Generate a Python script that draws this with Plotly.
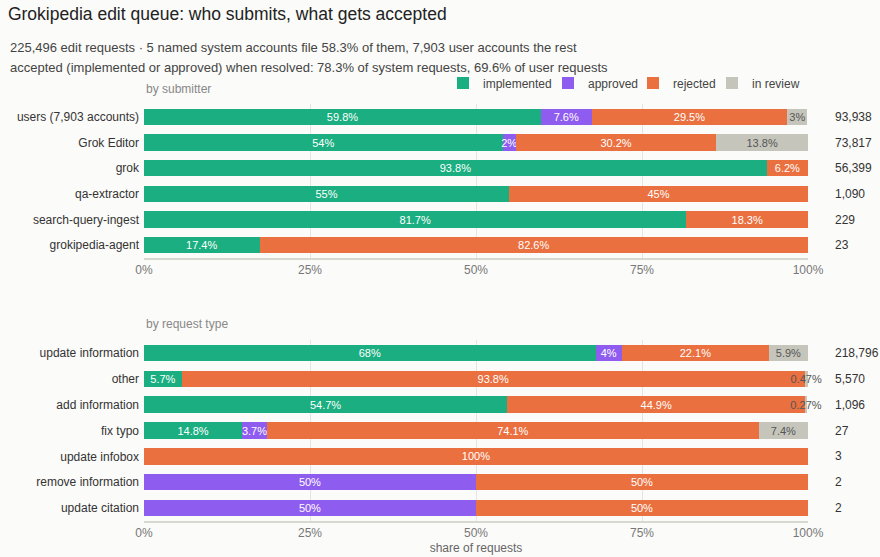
import plotly.graph_objects as go
from plotly.subplots import make_subplots

statuses = ["implemented", "approved", "rejected", "in review"]
colors = ["#1aae80", "#8f5cf0", "#ea7040", "#c6c5bb"]
text_colors = ["white", "white", "white", "#555555"]
legend_widths = [60, 40, 34, None]

# by submitter, share (%) in each status
submitters = ["users (7,903 accounts)", "Grok Editor", "grok", "qa-extractor",
              "search-query-ingest", "grokipedia-agent"]
sub_implemented = [59.8, 54, 93.8, 55, 81.7, 17.4]
sub_approved = [7.6, 2, 0, 0, 0, 0]
sub_rejected = [29.5, 30.2, 6.2, 45, 18.3, 82.6]
sub_review = [3, 13.8, 0, 0, 0, 0]
sub_counts = ["93,938", "73,817", "56,399", "1,090", "229", "23"]

# by request type
req_types = ["update information", "other", "add information", "fix typo",
             "update infobox", "remove information", "update citation"]
req_implemented = [68, 5.7, 54.7, 14.8, 0, 0, 0]
req_approved = [4, 0, 0, 3.7, 0, 50, 50]
req_rejected = [22.1, 93.8, 44.9, 74.1, 100, 50, 50]
req_review = [5.9, 0.47, 0.27, 7.4, 0, 0, 0]
req_counts = ["218,796", "5,570", "1,096", "27", "3", "2", "2"]

ticks = [0, 25, 50, 75, 100]
tick_labels = ["0%", "25%", "50%", "75%", "100%"]

sub_series = [sub_implemented, sub_approved, sub_rejected, sub_review]
req_series = [req_implemented, req_approved, req_rejected, req_review]


def pct_text(vals):
    return [f"{v:g}%" if v > 0 else "" for v in vals]


fig = make_subplots(rows=2, cols=1, shared_xaxes=False)

for i, name in enumerate(statuses):
    fig.add_trace(go.Bar(y=submitters, x=sub_series[i], name=name, orientation="h",
                         marker=dict(color=colors[i], line=dict(width=0)),
                         text=pct_text(sub_series[i]), textposition="inside",
                         insidetextanchor="middle", textangle=0, cliponaxis=False,
                         textfont=dict(color=text_colors[i], size=11),
                         legendgroup=name, legendwidth=legend_widths[i]), row=1, col=1)
    fig.add_trace(go.Bar(y=req_types, x=req_series[i], name=name, orientation="h",
                         marker=dict(color=colors[i], line=dict(width=0)),
                         text=pct_text(req_series[i]), textposition="inside",
                         insidetextanchor="middle", textangle=0, cliponaxis=False,
                         textfont=dict(color=text_colors[i], size=11),
                         legendgroup=name, showlegend=False), row=2, col=1)

axis_style = dict(range=[0, 100], tickmode="array", tickvals=ticks, ticktext=tick_labels,
                  showgrid=True, gridcolor="#e4e4e0", gridwidth=1,
                  showline=True, linecolor="#d8d8d0", linewidth=2,
                  zeroline=False, tickfont=dict(size=12, color="#777"), fixedrange=True)
fig.update_xaxes(**axis_style)
fig.update_xaxes(title=dict(text="share of requests", font=dict(size=12, color="#666"),
                            standoff=4), row=2, col=1)
fig.update_yaxes(autorange="reversed", tickfont=dict(size=12, color="#333"),
                 ticks="", showgrid=False, ticklabelstandoff=4, automargin=False,
                 fixedrange=True)

H = 557
plot_top, plot_bottom = 104, 521
span = plot_bottom - plot_top


def py(px):
    # screen pixel row -> paper y
    return (plot_bottom - px) / span


fig.update_layout(
    barmode="stack", bargap=0.36,
    width=880, height=H,
    margin=dict(l=144, r=72, t=plot_top, b=H - plot_bottom, autoexpand=False),
    paper_bgcolor="#fbfbf9", plot_bgcolor="#fbfbf9",
    font=dict(family="Liberation Sans, Arial, sans-serif", color="#333"),
    uniformtext=dict(minsize=11, mode="show"),
    yaxis=dict(domain=[py(258), 1.0]),
    yaxis2=dict(domain=[0.0, py(340)]),
    legend=dict(orientation="h", x=(443 - 144) / 664, xanchor="left", y=py(83), yanchor="middle",
                font=dict(size=12, color="#444"), bgcolor="rgba(0,0,0,0)",
                traceorder="normal", itemwidth=30),
    title=dict(text="Grokipedia edit queue: who submits, what gets accepted",
               x=0.009, xanchor="left", y=1 - 14 / H, yanchor="middle",
               font=dict(size=17.5, color="#222")),
    showlegend=True,
)

subtitle = ["225,496 edit requests · 5 named system accounts file 58.3% of them, 7,903 user accounts the rest",
            "accepted (implemented or approved) when resolved: 78.3% of system requests, 69.6% of user requests"]
for line, ypx in zip(subtitle, [48, 67]):
    fig.add_annotation(text=line, xref="paper", yref="paper", x=(8 - 144) / 664, xanchor="left",
                       y=py(ypx), yanchor="middle", showarrow=False,
                       font=dict(size=13, color="#444"))

for label, ypx in [("by submitter", 89), ("by request type", 324)]:
    fig.add_annotation(text=label, xref="paper", yref="paper", x=0, xanchor="left",
                       y=py(ypx), yanchor="middle", showarrow=False,
                       font=dict(size=12, color="#888"))

for cat, cnt in zip(submitters, sub_counts):
    fig.add_annotation(text=cnt, xref="x domain", yref="y", x=(833 - 144) / 664, y=cat,
                       xanchor="left", showarrow=False, font=dict(size=12, color="#333"))
for cat, cnt in zip(req_types, req_counts):
    fig.add_annotation(text=cnt, xref="x2 domain", yref="y2", x=(833 - 144) / 664, y=cat,
                       xanchor="left", showarrow=False, font=dict(size=12, color="#333"))

# page has a default body margin; drop it so the figure fills the window
fig.write_html("out.html", config={"displayModeBar": False},
               post_script="document.body.style.margin='0';")
